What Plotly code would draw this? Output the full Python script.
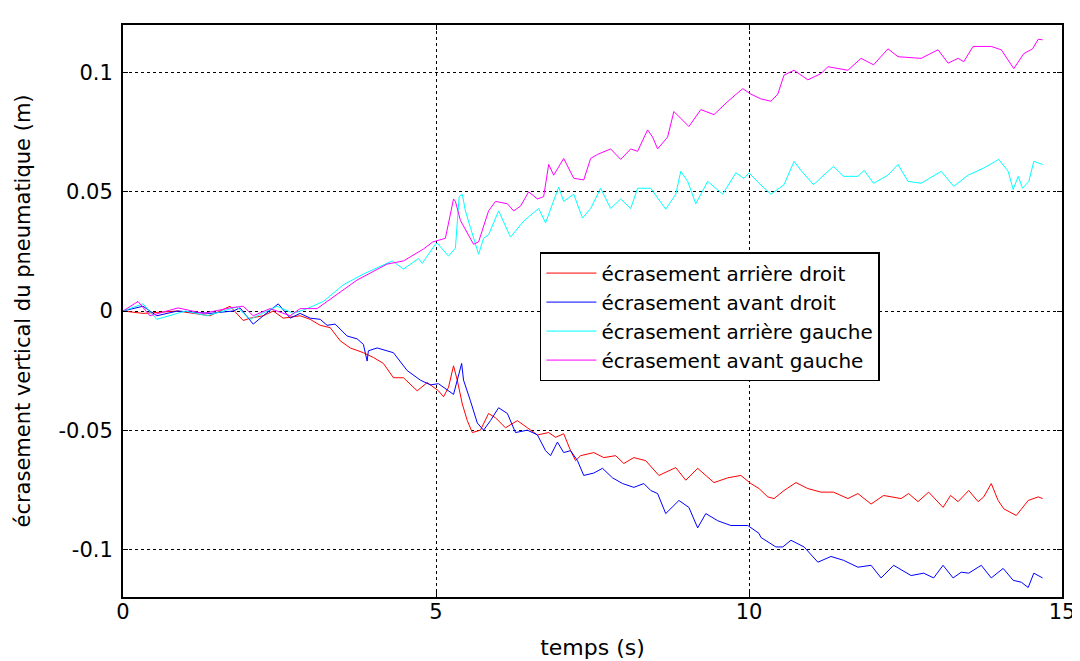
import plotly.graph_objects as go

# écrasement arrière droit (red)
t_ard = [0, 0.32, 0.87, 1.39, 1.71, 1.92, 2.03, 2.24, 2.4, 2.56, 2.83, 2.99, 3.15, 3.31, 3.47, 3.63,
         3.84, 4.0, 4.16, 4.32, 4.48, 4.7, 4.86, 5.04, 5.12, 5.2, 5.28, 5.34, 5.42, 5.5, 5.58, 5.71,
         5.84, 5.95, 6.11, 6.3, 6.46, 6.62, 6.8, 6.91, 7.04, 7.15, 7.23, 7.31, 7.52, 7.68, 7.87, 8.0,
         8.16, 8.35, 8.56, 8.83, 8.99, 9.18, 9.44, 9.66, 9.87, 10.03, 10.16, 10.3, 10.4, 10.56, 10.75,
         10.94, 11.15, 11.35, 11.58, 11.74, 11.95, 12.15, 12.43, 12.55, 12.7, 12.87, 13.1, 13.22, 13.34,
         13.51, 13.66, 13.75, 13.87, 13.98, 14.07, 14.27, 14.46, 14.62, 14.69]
y_ard = [0, -0.001, 0, -0.002, 0.002, -0.004, -0.003, -0.002, 0, -0.003, -0.002, -0.0035, -0.006,
         -0.007, -0.0125, -0.0155, -0.0175, -0.0195, -0.022, -0.028, -0.028, -0.0335, -0.030, -0.0335,
         -0.036, -0.032, -0.023, -0.029, -0.039, -0.046, -0.051, -0.050, -0.043, -0.0448, -0.049, -0.046,
         -0.049, -0.052, -0.051, -0.053, -0.0515, -0.0586, -0.0628, -0.0607, -0.0594, -0.0615, -0.0607,
         -0.064, -0.0615, -0.0628, -0.069, -0.0657, -0.071, -0.066, -0.072, -0.070, -0.069, -0.0724,
         -0.0745, -0.078, -0.0787, -0.0753, -0.072, -0.0745, -0.076, -0.076, -0.0787, -0.0766, -0.081,
         -0.0774, -0.0787, -0.0766, -0.080, -0.076, -0.0824, -0.0774, -0.080, -0.0753, -0.080, -0.078,
         -0.0724, -0.0795, -0.083, -0.0858, -0.0795, -0.078, -0.0787]

# écrasement avant droit (blue)
t_avd = [0, 0.32, 0.54, 0.87, 1.39, 1.76, 1.87, 2.08, 2.24, 2.48, 2.67, 2.83, 2.99, 3.15, 3.26, 3.39,
         3.58, 3.74, 3.84, 3.9, 3.92, 4.06, 4.32, 4.54, 4.75, 4.91, 5.04, 5.12, 5.28, 5.41, 5.44, 5.55,
         5.66, 5.76, 5.87, 6.0, 6.14, 6.27, 6.46, 6.62, 6.75, 6.83, 6.94, 7.04, 7.15, 7.26, 7.36, 7.52,
         7.66, 7.82, 7.98, 8.16, 8.32, 8.43, 8.54, 8.67, 8.88, 9.04, 9.18, 9.31, 9.5, 9.71, 9.98, 10.16,
         10.19, 10.43, 10.54, 10.67, 10.88, 11.1, 11.31, 11.51, 11.74, 11.95, 12.11, 12.31, 12.59, 12.79,
         12.95, 13.1, 13.26, 13.39, 13.51, 13.71, 13.87, 14.06, 14.22, 14.35, 14.46, 14.55, 14.69]
y_avd = [0, 0.002, -0.002, 0, -0.001, 0, 0.0013, -0.0055, -0.002, 0.003, -0.003, -0.001, -0.003,
         -0.0035, -0.006, -0.0055, -0.0105, -0.0117, -0.014, -0.021, -0.0167, -0.0155, -0.0175, -0.025,
         -0.029, -0.031, -0.0305, -0.032, -0.035, -0.022, -0.029, -0.0377, -0.047, -0.050, -0.046,
         -0.0406, -0.043, -0.051, -0.050, -0.052, -0.0586, -0.0607, -0.055, -0.0594, -0.0586, -0.0628,
         -0.069, -0.068, -0.066, -0.070, -0.0724, -0.074, -0.0724, -0.0753, -0.0766, -0.085, -0.0795,
         -0.0824, -0.091, -0.085, -0.088, -0.090, -0.090, -0.0933, -0.095, -0.099, -0.099, -0.0962,
         -0.099, -0.1054, -0.103, -0.1046, -0.1075, -0.1067, -0.112, -0.1067, -0.111, -0.110, -0.112,
         -0.1067, -0.112, -0.1096, -0.110, -0.1067, -0.112, -0.108, -0.113, -0.1138, -0.116, -0.110,
         -0.112]

# écrasement arrière gauche (cyan)
t_arg = [0, 0.32, 0.54, 1.0, 1.34, 1.82, 2.03, 2.46, 2.72, 2.94, 3.2, 3.52, 3.84, 4.3, 4.48, 4.72,
         4.78, 4.99, 5.02, 5.2, 5.31, 5.37, 5.42, 5.47, 5.55, 5.68, 5.76, 5.84, 6.0, 6.19, 6.4, 6.64,
         6.75, 6.96, 7.04, 7.2, 7.34, 7.47, 7.63, 7.79, 7.95, 8.11, 8.22, 8.43, 8.67, 8.83, 8.91, 9.02,
         9.15, 9.34, 9.58, 9.79, 9.92, 10.0, 10.16, 10.35, 10.56, 10.72, 10.83, 11.03, 11.35, 11.51,
         11.74, 11.84, 11.99, 12.22, 12.38, 12.54, 12.75, 13.07, 13.27, 13.5, 13.75, 13.99, 14.14,
         14.22, 14.3, 14.37, 14.47, 14.55, 14.69]
y_arg = [0, 0.003, -0.0035, 0, -0.002, 0.0017, -0.0035, 0.002, -0.001, 0.001, 0.004, 0.011, 0.0155,
         0.021, 0.0176, 0.022, 0.020, 0.028, 0.0285, 0.023, 0.0264, 0.048, 0.049, 0.042, 0.035, 0.0238,
         0.0305, 0.032, 0.042, 0.031, 0.0377, 0.043, 0.037, 0.052, 0.046, 0.049, 0.039, 0.043, 0.0515,
         0.043, 0.047, 0.043, 0.0515, 0.0515, 0.0427, 0.049, 0.0586, 0.0544, 0.045, 0.0544, 0.049,
         0.058, 0.0556, 0.058, 0.0536, 0.049, 0.053, 0.0628, 0.059, 0.053, 0.0607, 0.0565, 0.0565,
         0.059, 0.0536, 0.057, 0.0615, 0.0544, 0.0536, 0.0586, 0.0523, 0.057, 0.060, 0.0636, 0.0586,
         0.051, 0.0565, 0.0515, 0.0544, 0.0628, 0.0615]

# écrasement avant gauche (magenta)
t_avg = [0, 0.24, 0.43, 0.88, 1.28, 1.71, 1.92, 2.08, 2.35, 2.67, 2.83, 3.1, 3.74, 4.22, 4.48, 4.8,
         4.95, 5.15, 5.28, 5.31, 5.39, 5.55, 5.6, 5.68, 5.84, 5.95, 6.14, 6.24, 6.35, 6.48, 6.62, 6.72,
         6.8, 6.88, 7.04, 7.2, 7.36, 7.47, 7.58, 7.79, 7.95, 8.11, 8.22, 8.38, 8.46, 8.54, 8.7, 8.8,
         9.04, 9.23, 9.44, 9.66, 9.9, 10.03, 10.19, 10.35, 10.46, 10.56, 10.72, 10.94, 11.15, 11.26,
         11.58, 11.79, 11.99, 12.22, 12.38, 12.75, 13.02, 13.18, 13.34, 13.43, 13.58, 13.87, 14.03,
         14.23, 14.39, 14.53, 14.62, 14.69]
y_avg = [0, 0.004, -0.002, 0.0013, -0.001, 0.0013, 0.002, -0.002, 0.001, -0.002, 0.001, 0.001, 0.013,
         0.0197, 0.021, 0.026, 0.029, 0.0305, 0.047, 0.046, 0.038, 0.0305, 0.028, 0.029, 0.042, 0.046,
         0.045, 0.042, 0.044, 0.050, 0.047, 0.048, 0.0615, 0.057, 0.064, 0.0557, 0.055, 0.064, 0.0657,
         0.068, 0.0636, 0.068, 0.067, 0.076, 0.073, 0.068, 0.073, 0.0837, 0.0774, 0.0845, 0.0824,
         0.0879, 0.0933, 0.091, 0.089, 0.088, 0.091, 0.099, 0.101, 0.097, 0.0996, 0.1025, 0.101, 0.106,
         0.1033, 0.110, 0.1067, 0.106, 0.1096, 0.104, 0.106, 0.1046, 0.111, 0.111, 0.1096, 0.1017,
         0.108, 0.110, 0.114, 0.1138]

series = [
    ("écrasement arrière droit", t_ard, y_ard, "#ff0000"),
    ("écrasement avant droit", t_avd, y_avd, "#0000ff"),
    ("écrasement arrière gauche", t_arg, y_arg, "#00ffff"),
    ("écrasement avant gauche", t_avg, y_avg, "#ff00ff"),
]

x_ticks = [0, 5, 10, 15]
y_ticks = [-0.1, -0.05, 0, 0.05, 0.1]
y_labels = ["-0.1", "-0.05", "0", "0.05", "0.1"]

font = "DejaVu Sans, Arial, sans-serif"

fig = go.Figure()
for name, t, y, col in series:
    fig.add_trace(go.Scatter(x=t, y=y, mode="lines", name=name,
                             line=dict(color=col, width=1)))

axis_common = dict(
    showline=True, linecolor="black", linewidth=2, mirror="ticks",
    ticks="inside", ticklen=5, tickcolor="black", automargin=False,
    showgrid=True, gridcolor="black", griddash="dot", gridwidth=1,
    zeroline=False, tickfont=dict(size=21, color="black", family=font),
)

fig.update_xaxes(range=[0, 15], tickvals=x_ticks, ticklabelstandoff=-5,
                 title=dict(text="temps (s)", font=dict(size=22, color="black", family=font), standoff=16),
                 **axis_common)
fig.update_yaxes(range=[-0.12, 0.12], tickvals=y_ticks, ticktext=y_labels, ticklabelstandoff=4,
                 title=dict(text="écrasement vertical du pneumatique (m)",
                            font=dict(size=21, color="black", family=font), standoff=22),
                 **axis_common)

# page body adds ~8px offset, so the figure is slightly smaller than the window
fig.update_layout(
    width=1072, height=653,
    margin=dict(l=115, r=18, t=17, b=64),
    plot_bgcolor="white", paper_bgcolor="white",
    font=dict(family=font, color="black"),
    showlegend=True,
    legend=dict(x=0.444, y=0.603, xanchor="left", yanchor="top",
                bgcolor="white", bordercolor="black", borderwidth=1.5,
                font=dict(size=20, color="black", family=font),
                itemwidth=50, tracegroupgap=0),
)

fig.write_html("out.html")
